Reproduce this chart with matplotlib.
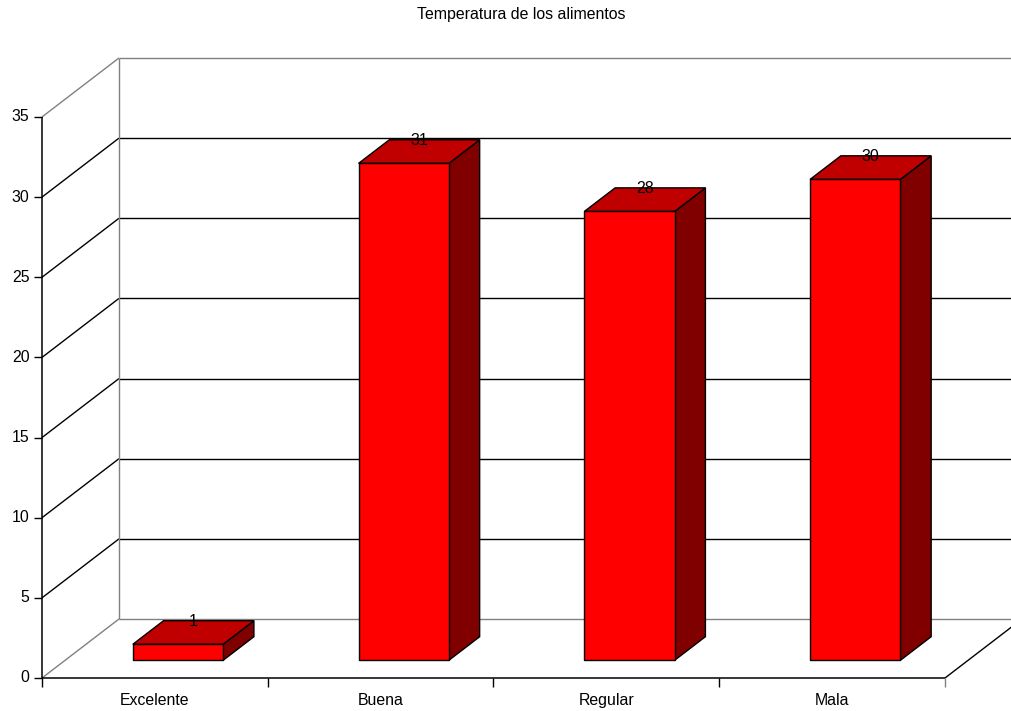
import matplotlib.pyplot as plt
from matplotlib.patches import Polygon

plt.rcParams['font.family'] = ['Liberation Sans', 'DejaVu Sans']

# Data
categories = ['Excelente', 'Buena', 'Regular', 'Mala']
values = [1, 31, 28, 30]
yticks = [0, 5, 10, 15, 20, 25, 30, 35]
title = 'Temperatura de los alimentos'

# 3D look: depth offset (in data units) of the back wall
DX = 0.341   # categories
DY = 3.68    # value units
ymax = 35
fs = 11.4


def proj(x, y, z):
    return x + z * DX, y + z * DY


fig = plt.figure(figsize=(10.11, 7.11), dpi=100)
ax = fig.add_axes([0, 0, 1, 1])
px_per_cat = 225.75
px_per_val = 16.03
ax.set_xlim(-42 / px_per_cat, (1011 - 42) / px_per_cat)
ax.set_ylim((678 - 711) / px_per_val, 678 / px_per_val)
ax.axis('off')

n = len(categories)
grey = '#808080'


def line(p0, p1, color='black', lw=1.0, zorder=1):
    ax.plot([p0[0], p1[0]], [p0[1], p1[1]], color=color, lw=lw,
            solid_capstyle='butt', zorder=zorder)


# walls: gridlines on the side wall and the back wall
far_right = n + 1
for v in yticks:
    c = grey if v in (0, ymax) else 'black'
    line(proj(0, v, 0), proj(0, v, 1), color=c)
    line(proj(0, v, 1), proj(far_right, v, 1), color=c)
line(proj(0, 0, 1), proj(0, ymax, 1), color=grey)

# floor right edge
line(proj(n, 0, 0), proj(n, 0, 1), color='black')

# bars
bw = 0.4
z0, z1 = 0.3, 0.7
for i, v in enumerate(values):
    l, r = i + 0.5 - bw / 2, i + 0.5 + bw / 2
    front = [proj(l, 0, z0), proj(r, 0, z0), proj(r, v, z0), proj(l, v, z0)]
    top = [proj(l, v, z0), proj(r, v, z0), proj(r, v, z1), proj(l, v, z1)]
    side = [proj(r, 0, z0), proj(r, 0, z1), proj(r, v, z1), proj(r, v, z0)]
    for pts, col in [(side, '#800000'), (top, '#C00000'), (front, '#FF0000')]:
        ax.add_patch(Polygon(pts, closed=True, facecolor=col,
                             edgecolor='black', lw=1.0, zorder=3))
    ax.annotate(str(v), proj(i + 0.5, v, 0.5), xytext=(0, 8.0),
                textcoords='offset points', ha='center', va='center',
                fontsize=fs, zorder=5)

# front axes
line((0, 0), (0, ymax), color='black', lw=1.1, zorder=4)
line((0, 0), (n, 0), color='black', lw=1.1, zorder=4)
for v in yticks:
    line((-0.035, v), (0, v), color='black', zorder=4)
    ax.annotate(str(v), (0, v), xytext=(-9, 0), textcoords='offset points',
                ha='right', va='center', fontsize=fs)
for i in range(n + 1):
    line((i, 0), (i, -0.55), color=grey if i == n else 'black', zorder=4)
for i, cat in enumerate(categories):
    ax.annotate(cat, (i + 0.5, 0), xytext=(0, -16.5), textcoords='offset points',
                ha='center', va='center', fontsize=fs)

fig.text(0.516, 1 - 15 / 711, title, ha='center', va='center', fontsize=fs)

plt.savefig('out.png', dpi=100)
